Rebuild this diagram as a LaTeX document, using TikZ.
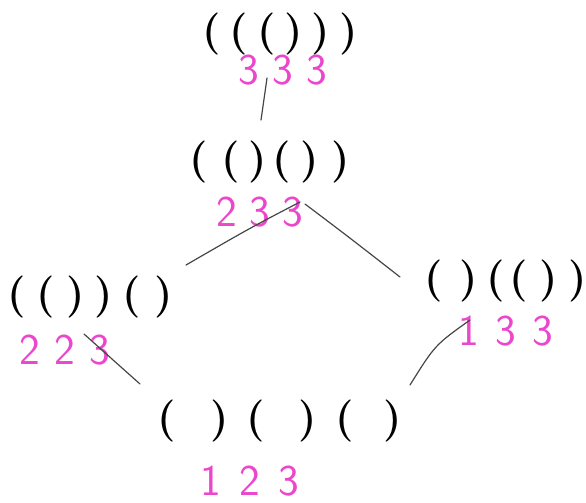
\documentclass[tikz,border=0pt]{standalone}
\definecolor{pink}{RGB}{236,70,205}
\definecolor{pencil}{RGB}{70,70,70}
\newcommand{\gp}[1]{\hspace{#1pt}}
\tikzset{
  parens/.style={inner sep=0pt, font=\bfseries\fontsize{42}{42}\selectfont, text=black},
  digits/.style={inner sep=0pt, font=\sffamily\fontsize{44}{44}\selectfont, text=pink},
  link/.style={draw=pencil, line width=1.2pt, line cap=round}
}
\begin{document}
\begin{tikzpicture}[x=1pt,y=-1pt]
\useasboundingbox (0,0) rectangle (586,503);
% parenthesis words
\node[parens] (p333) at (280,34) {(\gp{9}(\gp{9}(\gp{9})\gp{9})\gp{9})};
\node[parens] (p233) at (270,162) {(\gp{13}(\gp{9})\gp{6}(\gp{9})\gp{13})};
\node[parens] (p223) at (90,297) {(\gp{11}(\gp{11})\gp{10})\gp{10}(\gp{13})};
\node[parens] (p133) at (506,281) {(\gp{16})\gp{9}(\gp{5}(\gp{11})\gp{11})};
\node[parens] (p123) at (280,421) {(\gp{34})\gp{18}(\gp{34})\gp{18}(\gp{30})};
% rank labels
\node[digits] (n333) at (283,70) {3\gp{13}3\gp{13}3};
\node[digits] (n233) at (260,212) {2\gp{12}3\gp{12}3};
\node[digits] (n223) at (65,350) {2\gp{14}2\gp{14}3};
\node[digits] (n133) at (506,331) {1\gp{16}3\gp{16}3};
\node[digits] (n123) at (250,481) {1\gp{18}2\gp{18}3};
% connector ends
\coordinate (a1) at (267,78);
\coordinate (a2) at (261,120);
\coordinate (b1) at (300,202);
\coordinate (b2) at (186,265);
\coordinate (c1) at (305,204);
\coordinate (c2) at (400,277);
\coordinate (d1) at (84,334);
\coordinate (d2) at (140,384);
\coordinate (e1) at (470,320);
\coordinate (e2) at (410,385);
\draw[link] (a1) -- (a2);
\draw[link] (b1) .. controls (250,228) .. (b2);
\draw[link] (c1) .. controls (350,238) .. (c2);
\draw[link] (d1) -- (d2);
\draw[link] (e1) .. controls (435,345) .. (e2);
\end{tikzpicture}
\end{document}
